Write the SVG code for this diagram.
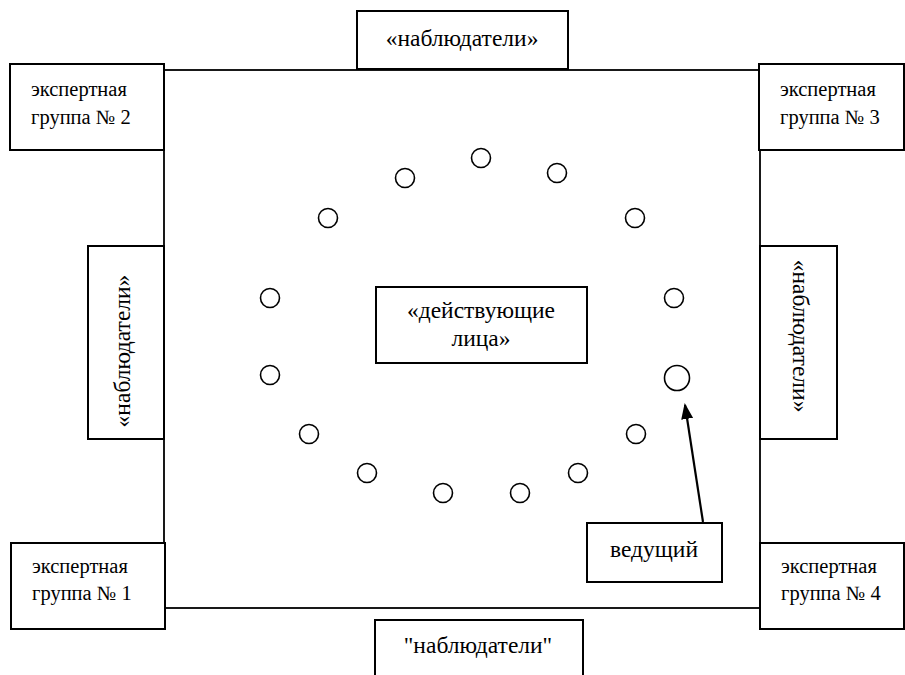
<svg xmlns="http://www.w3.org/2000/svg" width="905" height="675" viewBox="0 0 905 675">
<style>
.box{fill:#fff;stroke:#000;stroke-width:2}
.seat{fill:#fff;stroke:#000;stroke-width:1.6}
text{font-family:'Liberation Serif','Times New Roman','DejaVu Serif',serif;fill:#000}
.t{font-size:23.5px}
.e{font-size:20.5px}
.m{text-anchor:middle}
</style>
<defs>
<marker id="ah" markerWidth="16" markerHeight="12" refX="14" refY="6" orient="auto" markerUnits="userSpaceOnUse">
<path d="M0,0 L16,6 L0,12 z" fill="#000"/>
</marker>
</defs>
<g id="hall"><rect x="164" y="70" width="596" height="538" fill="#fff" stroke="#000" stroke-width="1.8"/></g>
<g id="observers-top"><rect class="box" x="357" y="11" width="211" height="58"/><text class="t m" x="462" y="46" font-family="Liberation Serif">«наблюдатели»</text></g>
<g id="expert2"><rect class="box" x="10" y="64" width="154" height="86"/><text class="e" x="31" y="96">экспертная</text><text class="e" x="31" y="124">группа № 2</text></g>
<g id="expert3"><rect class="box" x="759" y="64" width="145" height="86"/><text class="e" x="780" y="96">экспертная</text><text class="e" x="780" y="124">группа № 3</text></g>
<g id="expert1"><rect class="box" x="11" y="543" width="154" height="86"/><text class="e" x="32" y="573">экспертная</text><text class="e" x="32" y="600">группа № 1</text></g>
<g id="expert4"><rect class="box" x="760" y="543" width="144" height="86"/><text class="e" x="781" y="573">экспертная</text><text class="e" x="781" y="600">группа № 4</text></g>
<g id="observers-left"><rect class="box" x="88" y="246" width="76" height="193"/><text class="t m" transform="translate(130 351) rotate(-90)" x="0" y="0">«наблюдатели»</text></g>
<g id="observers-right"><rect class="box" x="760" y="246" width="77" height="193"/><text class="t m" transform="translate(793 336) rotate(90)" x="0" y="0">«наблюдатели»</text></g>
<g id="observers-bottom"><rect class="box" x="375" y="620" width="208" height="70"/><text class="t m" x="478" y="653">"наблюдатели"</text></g>
<g id="actors"><rect class="box" x="376" y="287" width="211" height="76"/><text class="t m" x="481" y="318">«действующие</text><text class="t m" x="481" y="346">лица»</text></g>
<g id="host"><rect class="box" x="587" y="523" width="135" height="59"/><text class="t m" x="654" y="557">ведущий</text></g>
<g id="seats">
<circle class="seat" cx="481" cy="158" r="9.5"/>
<circle class="seat" cx="405" cy="178" r="9.5"/>
<circle class="seat" cx="557" cy="173" r="9.5"/>
<circle class="seat" cx="328" cy="218" r="9.5"/>
<circle class="seat" cx="635" cy="218" r="9.5"/>
<circle class="seat" cx="270" cy="298" r="9.5"/>
<circle class="seat" cx="674" cy="298" r="9.5"/>
<circle class="seat" cx="270" cy="375" r="9.5"/>
<circle class="seat" cx="677" cy="378" r="12.5"/>
<circle class="seat" cx="309" cy="434" r="9.5"/>
<circle class="seat" cx="636" cy="434" r="9.5"/>
<circle class="seat" cx="367" cy="473" r="9.5"/>
<circle class="seat" cx="578" cy="473" r="9.5"/>
<circle class="seat" cx="443" cy="493" r="9.5"/>
<circle class="seat" cx="520" cy="493" r="9.5"/>
</g>
<g id="connectors"><line x1="703" y1="522" x2="685" y2="405" stroke="#000" stroke-width="2.2" marker-end="url(#ah)"/></g>
</svg>
